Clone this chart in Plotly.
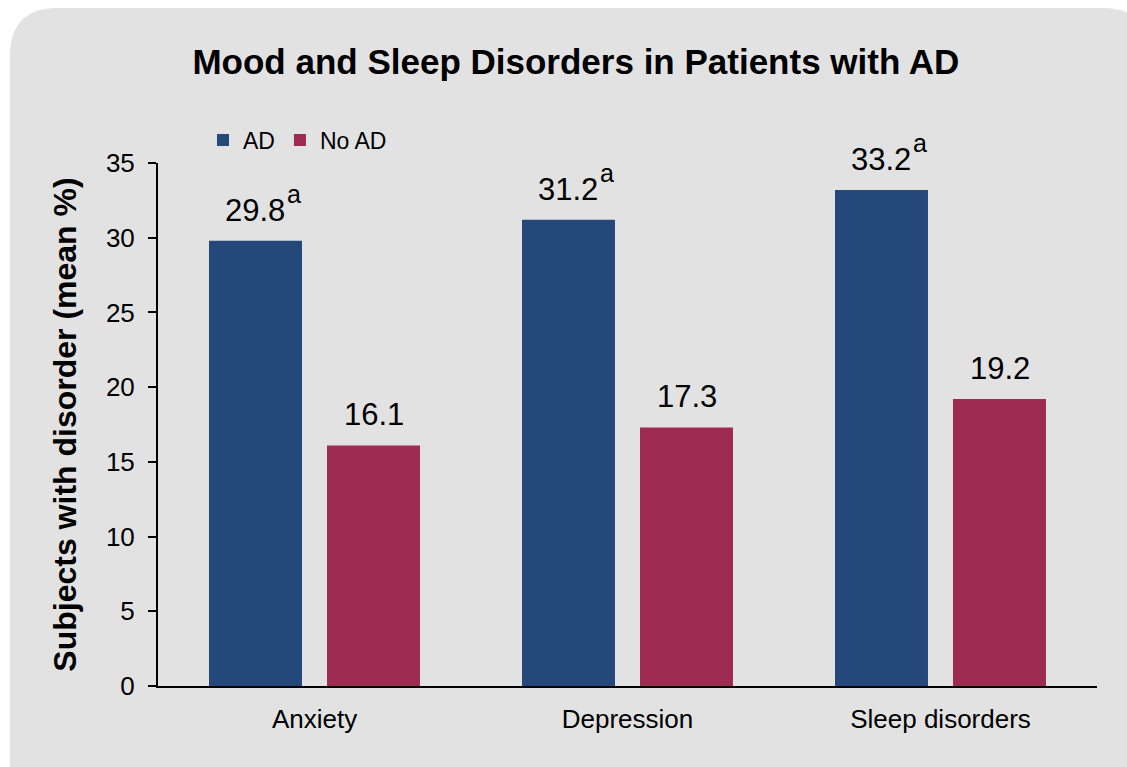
import plotly.graph_objects as go

categories = ["Anxiety", "Depression", "Sleep disorders"]
ad_values = [29.8, 31.2, 33.2]
no_ad_values = [16.1, 17.3, 19.2]
ad_marks = ["a", "a", "a"]
series_names = ["AD", "No AD"]
y_ticks = [0, 5, 10, 15, 20, 25, 30, 35]

FONT = "Liberation Sans, Arial, sans-serif"
W, H = 1127, 767
ml, mr, mt, mb = 158, 30, 163, 81
pw, ph = W - ml - mr, H - mt - mb
BARGAP, GROUPGAP = 0.246, 0.212
LABEL_SIZE, MARK_SIZE = 31, 24

def px2paper(x, y):
    return (x - ml) / pw, (H - mb - y) / ph

fig = go.Figure()
fig.add_trace(go.Bar(
    x=categories, y=ad_values, name=series_names[0],
    marker=dict(color="#24487A", line=dict(width=0)),
))
fig.add_trace(go.Bar(
    x=categories, y=no_ad_values, name=series_names[1],
    marker=dict(color="#9E2B52", line=dict(width=0)),
))

# value labels centred over each bar of the group
cat_w = pw / len(categories)
slot = cat_w * (1 - BARGAP) / 2
offsets = [-slot / 2, slot / 2]
for series, vals in enumerate([ad_values, no_ad_values]):
    for c, v in zip(categories, vals):
        txt = f"{v:.1f}"
        fig.add_annotation(x=c, y=v, xref="x", yref="y", text=txt, showarrow=False,
                           xanchor="center", yanchor="bottom",
                           xshift=offsets[series], yshift=11,
                           font=dict(size=LABEL_SIZE, color="black", family=FONT))
        if series == 0:
            num_w = LABEL_SIZE * (0.556 * (len(txt) - 1) + 0.278)
            m = ad_marks[categories.index(c)]
            fig.add_annotation(x=c, y=v, xref="x", yref="y", text=m, showarrow=False,
                               xanchor="left", yanchor="bottom",
                               xshift=offsets[series] + num_w / 2 - 1, yshift=31,
                               font=dict(size=MARK_SIZE + 1, color="black", family=FONT))

# rounded gray panel
x0, y0, x1, y1, r = 10, 8, 1150, 800, 48
def P(x, y):
    a, b = px2paper(x, y)
    return f"{a:.5f},{b:.5f}"
path = (f"M {P(x0, y1)} L {P(x0, y0 + r)} Q {P(x0, y0)} {P(x0 + r, y0)} "
        f"L {P(x1 - r, y0)} Q {P(x1, y0)} {P(x1, y0 + r)} L {P(x1, y1)} Z")
fig.add_shape(type="path", path=path, xref="paper", yref="paper",
              fillcolor="#E2E2E2", line=dict(width=0), layer="below")

fig.update_layout(
    width=W, height=H,
    margin=dict(l=ml, r=mr, t=mt, b=mb),
    paper_bgcolor="white", plot_bgcolor="rgba(0,0,0,0)",
    font=dict(family=FONT, color="black", size=24),
    barmode="group", bargap=BARGAP, bargroupgap=GROUPGAP,
    title=dict(text="<b>Mood and Sleep Disorders in Patients with AD</b>",
               x=0.511, xanchor="center", y=1 - 62 / H, yanchor="middle",
               font=dict(size=35, family=FONT, color="black")),
    legend=dict(orientation="h", x=(203 - ml) / pw, xanchor="left",
                y=(H - mb - 140) / ph, yanchor="middle",
                font=dict(size=23, family=FONT), bgcolor="rgba(0,0,0,0)",
                itemwidth=30, traceorder="normal"),
    showlegend=True,
)
fig.update_xaxes(showline=True, linecolor="black", linewidth=2, ticks="",
                 showgrid=False, zeroline=False, tickfont=dict(size=26),
                 ticklabelstandoff=9)
fig.update_yaxes(range=[0, 35], tickvals=y_ticks, showline=True, linecolor="black",
                 linewidth=2, ticks="outside", ticklen=8, tickwidth=2, tickcolor="black",
                 showgrid=False, zeroline=False, tickfont=dict(size=26),
                 ticklabelstandoff=8,
                 title=dict(text="<b>Subjects with disorder (mean %)</b>",
                            font=dict(size=32), standoff=20))

fig.write_html("out.html")
